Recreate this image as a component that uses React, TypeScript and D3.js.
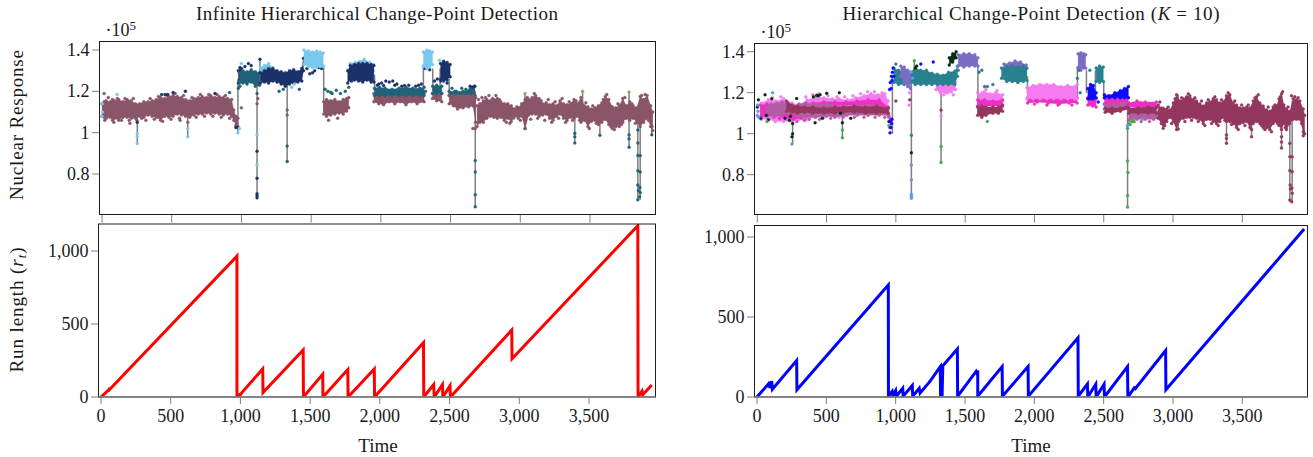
import React from "react";
import * as d3 from "d3";

type Row = [number, number, number];
type Dot = [number, number];

const xTicks = [0, 500, 1000, 1500, 2000, 2500, 3000, 3500];
const yTicksTop = [0.8, 1, 1.2, 1.4];
const yTicksRun = [0, 500, 1000];

// ---------- left panel, envelope samples [time, low, high] in units of 1e5
const lMaroonA: Row[] = [[0,1.08,1.14],[15,1.075,1.15],[30,1.07,1.155],[60,1.075,1.15],[75,1.06,1.16],[90,1.07,1.155],[120,1.06,1.16],[150,1.075,1.15],[180,1.075,1.16],[210,1.07,1.155],[240,1.07,1.14],[270,1.08,1.14],[300,1.075,1.15],[330,1.085,1.15],[360,1.08,1.155],[390,1.075,1.16],[420,1.06,1.17],[450,1.08,1.165],[480,1.075,1.175],[510,1.08,1.18],[540,1.09,1.175],[570,1.085,1.17],[600,1.08,1.16],[630,1.075,1.155],[660,1.085,1.165],[690,1.09,1.17],[720,1.09,1.175],[750,1.095,1.17],[780,1.09,1.18],[810,1.095,1.17],[840,1.09,1.175],[870,1.085,1.17],[900,1.09,1.165],[930,1.08,1.16],[945,1.06,1.11],[960,1.035,1.08],[975,1.03,1.07]];
const lMaroonB: Row[] = [[1590,1.09,1.15],[1610,1.08,1.16],[1640,1.085,1.155],[1670,1.09,1.16],[1700,1.095,1.15],[1730,1.09,1.16],[1755,1.105,1.165],[1770,1.12,1.17]];
const lMaroonC: Row[] = [[1950,1.15,1.19],[1985,1.14,1.19],[2020,1.135,1.19],[2060,1.15,1.19],[2100,1.14,1.19],[2140,1.15,1.19],[2180,1.135,1.19],[2220,1.15,1.19],[2260,1.14,1.19],[2310,1.15,1.19]];
const lMaroonD: Row[] = [[2370,1.165,1.19],[2400,1.155,1.19],[2437,1.15,1.19]];
const lMaroonE: Row[] = [[2490,1.14,1.18],[2520,1.13,1.18],[2550,1.115,1.18],[2590,1.12,1.18],[2630,1.125,1.18],[2660,1.13,1.18],[2680,1.05,1.17]];
const lMaroonF: Row[] = [[2690,1.03,1.13],[2710,1.05,1.14],[2735,1.05,1.155],[2760,1.07,1.16],[2785,1.08,1.155],[2810,1.075,1.16],[2835,1.07,1.165],[2860,1.075,1.15],[2885,1.06,1.14],[2910,1.07,1.14],[2935,1.055,1.13],[2960,1.08,1.115],[2985,1.07,1.12],[3010,1.08,1.14],[3035,1.02,1.16],[3060,1.085,1.16],[3085,1.09,1.17],[3110,1.09,1.18],[3135,1.08,1.165],[3160,1.085,1.14],[3185,1.09,1.145],[3210,1.07,1.135],[3235,1.06,1.14],[3260,1.08,1.13],[3285,1.09,1.155],[3310,1.07,1.14],[3335,1.06,1.135],[3360,1.075,1.14],[3385,1.07,1.16],[3410,1.08,1.14],[3435,1.05,1.17],[3460,1.06,1.13],[3485,1.03,1.125],[3510,1.055,1.115],[3535,1.06,1.12],[3560,1.04,1.13],[3585,1.05,1.145],[3610,1.065,1.175],[3635,1.04,1.16],[3660,1.02,1.125],[3685,1.03,1.12],[3710,1.03,1.13],[3735,1.05,1.165],[3760,1.07,1.13],[3785,1.06,1.15],[3810,1.07,1.13],[3835,1.05,1.12],[3860,1.03,1.175],[3885,1.05,1.16],[3910,1.07,1.18],[3935,1.03,1.13],[3950,1.01,1.1]];
const lTealA: Row[] = [[985,1.24,1.29],[1010,1.24,1.3],[1040,1.235,1.295],[1070,1.245,1.305],[1100,1.225,1.295],[1130,1.23,1.29]];
const lTealC: Row[] = [[1955,1.18,1.215],[1990,1.18,1.22],[2030,1.18,1.215],[2080,1.18,1.21],[2130,1.18,1.215],[2180,1.18,1.22],[2230,1.18,1.215],[2280,1.18,1.215],[2310,1.18,1.22]];
const lTealD: Row[] = [[2372,1.19,1.225],[2400,1.19,1.23],[2437,1.19,1.225]];
const lTealE: Row[] = [[2490,1.18,1.2],[2540,1.18,1.2],[2590,1.18,1.2],[2640,1.18,1.21],[2675,1.18,1.225]];
const lNavyB: Row[] = [[1135,1.24,1.29],[1165,1.245,1.3],[1195,1.24,1.31],[1225,1.25,1.31],[1255,1.245,1.3],[1285,1.235,1.295],[1315,1.225,1.29],[1345,1.235,1.3],[1375,1.24,1.305],[1405,1.245,1.295],[1433,1.25,1.31],[1445,1.3,1.36]];
const lNavyC: Row[] = [[1762,1.24,1.3],[1780,1.255,1.325],[1810,1.255,1.33],[1840,1.25,1.335],[1870,1.245,1.335],[1900,1.255,1.335],[1930,1.245,1.33],[1950,1.245,1.325]];
const lNavyD: Row[] = [[2428,1.26,1.335],[2450,1.25,1.345],[2475,1.255,1.34],[2497,1.27,1.33]];
const lLightB: Row[] = [[1448,1.33,1.4],[1480,1.32,1.395],[1510,1.315,1.39],[1540,1.315,1.395],[1565,1.32,1.39],[1587,1.32,1.385]];
const lLightC: Row[] = [[1780,1.3,1.335],[1820,1.3,1.34],[1850,1.3,1.345],[1880,1.3,1.355],[1920,1.3,1.34],[1945,1.3,1.33]];
const lLightD: Row[] = [[2305,1.32,1.39],[2330,1.31,1.4],[2350,1.32,1.395],[2370,1.33,1.39]];
const lLightE: Row[] = [[1135,1.29,1.315],[1165,1.295,1.325],[1195,1.3,1.335],[1225,1.3,1.315]];
const lNavyColumn: Row[] = [[978,1.24,1.3],[990,1.26,1.315],[1000,1.28,1.31]];
const lNavyDots: Dot[] = [[253,1.05],[428,1.185],[452,1.185],[471,1.185],[510,1.194],[598,1.2],[810,1.19],[960,1.025],[970,1.025],[1025,1.32],[1050,1.335],[1070,1.325],[1133,1.355],[1112,0.91],[1112,0.78],[1112,0.705],[1112,0.695],[1112,0.685],[1470,1.31],[1490,1.285],[1510,1.29],[1525,1.3],[1555,1.315],[1575,1.31],[1790,1.25],[1975,1.23],[1985,1.235],[2005,1.24],[2020,1.228],[2035,1.25],[2060,1.245],[2085,1.25],[2100,1.23],[2115,1.235],[2150,1.225],[2170,1.228],[2200,1.23],[2250,1.225],[2270,1.23],[2290,1.235],[2318,1.31],[2350,1.305],[2385,1.25],[2405,1.26],[2430,1.25],[2475,1.24],[2640,1.225],[2655,1.22],[2670,1.225]];
const lTealDots: Dot[] = [[915,1.194],[1112,1.19],[978,1.215],[990,1.225],[1270,1.2],[1300,1.21],[1328,0.935],[1328,0.86],[1415,1.21],[1600,1.21],[1620,1.2],[1640,1.195],[1650,1.19],[1680,1.205],[1710,1.19],[1745,1.2],[1770,1.22],[2320,1.2],[2510,1.215],[2530,1.2],[2580,1.215],[2610,1.21],[2677,0.865],[2677,0.81],[2677,0.7],[2677,0.642],[3391,0.997],[3391,0.98],[3391,0.95],[3571,0.987],[3780,0.99],[3780,0.97],[3780,0.93],[3843,1.013],[3843,0.95],[3843,0.89],[3843,0.816],[3843,0.747],[3847,0.72],[3843,0.675],[3860,0.89],[3860,0.81],[3858,0.735],[3860,0.71],[3855,0.69],[3943,0.99]];
const lLightDots: Dot[] = [[0,1.08],[4,1.1],[2,1.14],[108,1.185],[253,0.997],[253,0.98],[253,0.948],[615,1.02],[615,0.98],[975,1.0],[985,1.02],[1000,1.335],[1112,0.99],[1112,0.845],[1360,1.22],[1380,1.235],[2420,1.35]];
const lMaroonDots: Dot[] = [[15,1.19],[200,1.045],[250,1.06],[560,1.06],[615,1.05],[1000,1.12],[1112,1.14],[1118,1.165],[1328,1.11],[1328,1.085],[1625,1.06],[1690,1.07],[2677,1.02],[2660,1.02],[3034,1.02],
  [20,1.06],[45,1.17],[85,1.05],[110,1.165],[140,1.06],[165,1.165],[195,1.06],[225,1.165],[285,1.07],[315,1.06],[345,1.165],[375,1.065],[405,1.175],[435,1.055],[465,1.18],[495,1.065],[525,1.19],[555,1.07],[585,1.18],[645,1.17],[675,1.075],[705,1.185],[735,1.08],[765,1.185],[795,1.08],[825,1.185],[855,1.075],[885,1.18],[915,1.07],
  [2700,1.16],[2725,1.17],[2750,1.17],[2775,1.18],[2800,1.165],[2825,1.18],[2850,1.16],[2900,1.05],[2925,1.045],[2950,1.07],[2975,1.125],[3000,1.06],[3050,1.17],[3075,1.065],[3100,1.19],[3125,1.07],[3150,1.155],[3175,1.06],[3200,1.16],[3225,1.05],[3250,1.15],[3275,1.07],[3300,1.165],[3325,1.05],[3350,1.15],[3375,1.06],[3400,1.155],[3425,1.06],[3470,1.145],[3495,1.02],[3520,1.13],[3545,1.045],[3595,1.16],[3620,1.185],[3650,1.03],[3675,1.015],[3700,1.14],[3725,1.04],[3750,1.17],[3800,1.14],[3825,1.045],[3870,1.18],[3895,1.185],[3920,1.06],[3945,1.03]];
const lOliveDots: Dot[] = [[3034,1.19],[3447,1.2],[3780,1.197]];
const lSpikes: Row[] = [[253,0.948,1.1],[615,0.98,1.12],[975,1.0,1.26],[1112,0.685,1.25],[1133,1.25,1.355],[1328,0.86,1.25],[1590,1.1,1.33],[1955,1.2,1.28],[2305,1.18,1.33],[2372,1.2,1.31],[2425,1.2,1.31],[2490,1.18,1.26],[2677,0.642,1.2],[3034,1.02,1.19],[3391,0.95,1.1],[3447,1.1,1.2],[3571,0.987,1.1],[3780,0.93,1.197],[3843,0.675,1.1],[3860,0.675,1.15],[3943,0.99,1.1]];
const lRun: Dot[] = [[0,0],[57,50],[52,38],[64,62],[60,50],[975,965],[975,0],[1000,22],[995,10],[1012,32],[1160,192],[1162,30],[1450,322],[1452,0],[1590,155],[1592,0],[1770,188],[1772,0],[1960,192],[1962,0],[2313,372],[2315,0],[2386,85],[2390,0],[2449,85],[2452,0],[2503,78],[2506,0],[2946,459],[2948,262],[3850,1173],[3852,0],[3880,40],[3885,15],[3950,82]];

// ---------- right panel
const rLightA: Row[] = [[30,1.07,1.15],[80,1.07,1.165],[130,1.06,1.16],[190,1.06,1.17],[250,1.06,1.15],[300,1.07,1.14],[360,1.07,1.165],[420,1.08,1.18],[480,1.08,1.175],[540,1.09,1.17],[590,1.08,1.17],[650,1.09,1.165],[710,1.1,1.175],[770,1.11,1.185],[820,1.11,1.195],[870,1.11,1.19],[920,1.1,1.195],[945,1.08,1.16]];
const rHotA: Row[] = [[20,1.08,1.14],[70,1.085,1.145],[130,1.09,1.14],[200,1.08,1.12],[260,1.07,1.1],[320,1.075,1.105],[400,1.135,1.15],[480,1.135,1.155],[560,1.135,1.155],[640,1.14,1.155],[720,1.135,1.16],[800,1.14,1.165],[880,1.14,1.165],[945,1.09,1.13],[965,1.03,1.07]];
const rPurpleA: Row[] = [[65,1.095,1.13],[100,1.09,1.145],[140,1.09,1.15],[180,1.095,1.155],[220,1.1,1.15],[260,1.1,1.13],[300,1.08,1.145],[350,1.08,1.15],[420,1.08,1.145],[500,1.085,1.15],[560,1.08,1.135],[640,1.09,1.135],[720,1.09,1.135],[800,1.09,1.14],[880,1.09,1.135],[945,1.09,1.125]];
const rMaroonA: Row[] = [[210,1.11,1.16],[250,1.105,1.14],[290,1.1,1.135],[340,1.105,1.13],[400,1.1,1.13],[480,1.1,1.125],[560,1.1,1.13],[620,1.105,1.13],[700,1.105,1.135],[780,1.1,1.13],[860,1.1,1.135],[945,1.1,1.125]];
const rTealA: Row[] = [[985,1.25,1.32],[1020,1.24,1.31],[1060,1.24,1.3],[1100,1.25,1.3],[1140,1.24,1.32],[1180,1.24,1.31],[1220,1.24,1.31],[1260,1.24,1.295],[1300,1.24,1.29],[1340,1.24,1.285],[1380,1.24,1.3],[1425,1.24,1.305],[1445,1.28,1.33]];
const rPurpleB: Row[] = [[1035,1.28,1.33],[1060,1.25,1.325],[1085,1.23,1.31],[1105,1.22,1.3]];
const rLightB: Row[] = [[1290,1.215,1.25],[1320,1.2,1.25],[1360,1.2,1.25],[1400,1.205,1.25],[1430,1.215,1.25]];
const rBlackB: Row[] = [[1385,1.335,1.37],[1410,1.35,1.39],[1435,1.37,1.4]];
const rPurpleC: Row[] = [[1450,1.33,1.385],[1490,1.325,1.39],[1530,1.33,1.39],[1570,1.33,1.385],[1592,1.33,1.37]];
const rLightC: Row[] = [[1600,1.16,1.19],[1640,1.16,1.205],[1680,1.15,1.195],[1720,1.155,1.2],[1770,1.16,1.19]];
const rHotC: Row[] = [[1590,1.135,1.165],[1640,1.135,1.165],[1700,1.135,1.16],[1770,1.135,1.165]];
const rMaroonC: Row[] = [[1590,1.09,1.13],[1620,1.08,1.135],[1650,1.09,1.13],[1700,1.1,1.13],[1740,1.1,1.13],[1770,1.11,1.14]];
const rTealD: Row[] = [[1762,1.27,1.32],[1800,1.255,1.325],[1840,1.255,1.33],[1880,1.25,1.325],[1920,1.255,1.33],[1946,1.26,1.32]];
const rPurpleD: Row[] = [[1780,1.32,1.34],[1820,1.32,1.345],[1860,1.32,1.355],[1900,1.32,1.35],[1940,1.32,1.335]];
const rLightE: Row[] = [[1946,1.17,1.225],[1990,1.17,1.235],[2040,1.17,1.24],[2090,1.17,1.24],[2140,1.17,1.24],[2190,1.17,1.23],[2240,1.17,1.235],[2290,1.17,1.23],[2308,1.17,1.24]];
const rHotE: Row[] = [[1950,1.15,1.175],[2020,1.155,1.175],[2100,1.15,1.175],[2180,1.145,1.175],[2250,1.15,1.175],[2308,1.15,1.175]];
const rPurpleF: Row[] = [[2315,1.32,1.39],[2335,1.31,1.395],[2355,1.32,1.39],[2370,1.32,1.385]];
const rBlueG: Row[] = [[2385,1.17,1.22],[2405,1.17,1.24],[2425,1.17,1.235],[2445,1.175,1.2]];
const rHotG: Row[] = [[2385,1.14,1.175],[2420,1.135,1.17],[2445,1.13,1.17]];
const rTealH: Row[] = [[2445,1.255,1.32],[2470,1.25,1.33],[2497,1.255,1.325]];
const rHotI: Row[] = [[2505,1.145,1.175],[2560,1.14,1.175],[2620,1.145,1.175],[2675,1.145,1.175]];
const rPurpleI: Row[] = [[2505,1.12,1.145],[2570,1.12,1.145],[2630,1.125,1.15],[2680,1.12,1.15]];
const rBlueI: Row[] = [[2505,1.175,1.19],[2540,1.175,1.185],[2580,1.175,1.2],[2620,1.175,1.21],[2650,1.175,1.22],[2678,1.175,1.23]];
const rMaroonI: Row[] = [[2510,1.105,1.125],[2560,1.1,1.125],[2620,1.11,1.125],[2680,1.12,1.14]];
const rHotJ: Row[] = [[2680,1.13,1.15],[2740,1.125,1.16],[2800,1.125,1.155],[2880,1.125,1.155]];
const rPurpleJ: Row[] = [[2680,1.065,1.11],[2740,1.07,1.105],[2800,1.07,1.105],[2860,1.07,1.105],[2915,1.075,1.12]];
const rMaroonJ: Row[] = [[2680,1.1,1.125],[2750,1.1,1.125],[2820,1.1,1.13],[2880,1.1,1.13]];
const rMaroonF: Row[] = [[2893,1.075,1.14],[2915,1.05,1.125],[2929,1.026,1.124],[2955,1.06,1.12],[2978,1.08,1.115],[3002,1.06,1.15],[3026,1.02,1.19],[3050,1.07,1.16],[3074,1.075,1.17],[3098,1.08,1.18],[3122,1.08,1.185],[3146,1.08,1.165],[3170,1.075,1.16],[3194,1.07,1.145],[3218,1.05,1.135],[3242,1.07,1.15],[3266,1.07,1.155],[3290,1.06,1.17],[3314,1.05,1.165],[3338,1.06,1.15],[3362,1.08,1.155],[3386,1.06,1.185],[3410,1.06,1.19],[3434,1.05,1.15],[3459,1.03,1.14],[3483,1.05,1.125],[3507,1.055,1.125],[3531,1.06,1.13],[3555,1.03,1.125],[3579,1.05,1.16],[3603,1.06,1.18],[3627,1.05,1.15],[3651,1.03,1.135],[3675,1.03,1.115],[3699,1.02,1.11],[3723,1.05,1.13],[3747,1.06,1.135],[3765,1.04,1.17],[3783,1.02,1.195],[3800,1.05,1.14],[3819,1.02,1.12],[3843,1.05,1.11],[3867,1.07,1.17],[3891,1.07,1.165],[3915,1.07,1.16],[3940,1.01,1.12],[3950,1.0,1.09]];
const rBlackDots: Dot[] = [[0,1.13],[8,1.165],[25,1.075],[56,1.19],[65,1.09],[80,1.068],[104,1.17],[200,1.075],[232,1.065],[240,1.085],[255,1.05],[255,1.0],[250,0.985],[284,1.172],[405,1.18],[417,1.054],[429,1.188],[440,1.185],[453,1.19],[470,1.075],[501,1.197],[592,1.2],[600,1.1],[614,1.054],[674,1.075],[950,1.06],[1112,0.907],[1140,1.32],[1150,1.33]];
const rGreenDots: Dot[] = [[70,1.06],[614,1.018],[614,0.98],[950,1.04],[955,1.03],[1133,1.356],[1326,0.937],[1326,0.86],[2672,1.026],[2680,1.05],[2690,1.045],[2700,1.06],[2720,1.06],[2672,0.867],[2675,0.811],[2672,0.698],[2672,0.642],[1660,1.06]];
const rBlueDots: Dot[] = [[958,1.005],[963,1.03],[970,1.05],[958,1.06],[972,1.07],[955,1.215],[965,1.22],[972,1.26],[960,1.25],[968,1.28],[975,1.3],[980,1.32],[985,1.28],[1270,1.35],[1180,1.34],[2460,1.155]];
const rCornDots: Dot[] = [[0,1.09],[5,1.11],[2,1.14],[10,1.08],[110,1.2],[250,0.95],[1110,1.3],[1120,1.27],[1112,0.847],[1112,0.775],[1112,0.705],[1112,0.695],[1112,0.685],[2672,1.04],[2780,1.07]];
const rTealDots: Dot[] = [[1000,1.34],[1112,0.993],[1450,1.31],[1600,1.3],[1620,1.31],[1640,1.23],[1700,1.24],[1660,1.23],[2310,1.27],[2320,1.31],[2400,1.31],[2330,1.2]];
const rMaroonDots: Dot[] = [[1100,1.165],[1000,1.16],[1326,1.115],[3038,1.023],[3386,0.994],[3386,0.977],[3386,0.953],[3567,0.985],[3783,0.985],[3783,0.96],[3783,0.93],[3843,0.953],[3843,0.888],[3843,0.82],[3845,0.75],[3847,0.73],[3843,0.676],[3860,0.888],[3860,0.815],[3858,0.735],[3860,0.71],[3856,0.668],[3940,0.99],
  [2905,1.155],[2940,1.04],[2965,1.13],[2990,1.05],[3015,1.17],[3040,1.06],[3062,1.175],[3086,1.06],[3110,1.195],[3134,1.065],[3158,1.175],[3182,1.06],[3206,1.16],[3230,1.04],[3254,1.165],[3278,1.05],[3302,1.18],[3326,1.04],[3350,1.165],[3374,1.065],[3398,1.2],[3422,1.045],[3446,1.16],[3471,1.02],[3495,1.14],[3519,1.04],[3543,1.14],[3567,1.02],[3591,1.175],[3615,1.19],[3639,1.04],[3663,1.02],[3687,1.13],[3711,1.01],[3735,1.14],[3756,1.05],[3774,1.18],[3791,1.205],[3810,1.03],[3830,1.13],[3855,1.185],[3879,1.18],[3903,1.175],[3928,1.05]];
const rLightDots: Dot[] = [[1100,1.2],[1095,1.14],[1326,1.086],[1590,1.2],[1620,1.2],[2400,1.14],
  [110,1.175],[170,1.18],[350,1.18],[400,1.19],[445,1.195],[510,1.185],[575,1.18],[630,1.18],[690,1.185],[745,1.195],[795,1.205],[845,1.205],[900,1.2],[1345,1.19],[1375,1.2],[1415,1.19],[1650,1.215],[1730,1.21]];
const rHotDots: Dot[] = [[160,1.075],[230,1.07],[285,1.06],[340,1.065],[2000,1.145],[2090,1.14],[2170,1.14],[2270,1.14],[2530,1.185],[2640,1.135]];
const rPlumDots: Dot[] = [[120,1.08],[180,1.085],[375,1.07],[450,1.07],[530,1.075],[620,1.08],[700,1.08],[770,1.08],[850,1.08],[920,1.08],[2710,1.06],[2770,1.06],[2830,1.06]];
const rSpikes: Row[] = [[255,0.95,1.1],[614,0.98,1.12],[975,1.0,1.28],[1112,0.685,1.25],[1133,1.25,1.356],[1326,0.86,1.24],[1592,1.1,1.33],[1950,1.2,1.28],[2310,1.18,1.33],[2375,1.2,1.31],[2440,1.2,1.31],[2500,1.18,1.26],[2672,0.642,1.18],[3038,1.02,1.19],[3386,0.953,1.1],[3567,0.985,1.1],[3783,0.93,1.19],[3843,0.676,1.1],[3860,0.668,1.16],[3940,0.99,1.1]];
const rRun: Dot[] = [[0,0],[85,85],[78,60],[92,95],[96,55],[106,100],[111,48],[286,228],[288,45],[947,700],[948,5],[975,35],[980,8],[1000,40],[1005,5],[1051,55],[1054,5],[1120,72],[1123,5],[1170,55],[1176,25],[1240,90],[1245,95],[1322,190],[1324,5],[1328,190],[1335,5],[1340,195],[1445,300],[1447,5],[1580,160],[1585,150],[1592,165],[1592,5],[1768,190],[1770,5],[1955,190],[1957,5],[2315,370],[2317,5],[2383,81],[2386,0],[2443,80],[2446,0],[2503,80],[2506,0],[2672,190],[2675,0],[2727,65],[2722,45],[2947,290],[2949,45],[3946,1050]];

const colors = {
  maroon: "#8a5569", teal: "#20627a", navy: "#1b3169", light: "#78c8ec", olive: "#8ca865",
  pink: "#f67bf0", hot: "#ec30c2", plum: "#b35ea3", wine: "#93375f", rteal: "#27818f",
  purple: "#7a6cc5", blue: "#0a0aff", black: "#0b2c18", green: "#45a84c", corn: "#6495ed",
};

const serif = "'Liberation Serif','Times New Roman',serif";
const FS = 18;
const px = (v: number) => Math.round(v * 100) / 100;

type Layer = { rows?: Row[]; dots?: Dot[]; color: string };

const leftLayers: Layer[] = [
  { dots: lOliveDots, color: colors.olive },
  { rows: lLightE, color: colors.light },
  { rows: lLightC, color: colors.light },
  { rows: lTealE, color: colors.teal },
  { rows: lMaroonA, color: colors.maroon },
  { rows: lMaroonB, color: colors.maroon },
  { rows: lMaroonC, color: colors.maroon },
  { rows: lMaroonD, color: colors.maroon },
  { rows: lMaroonE, color: colors.maroon },
  { rows: lMaroonF, color: colors.maroon },
  { dots: lMaroonDots, color: colors.maroon },
  { dots: lNavyDots, color: colors.navy },
  { dots: lTealDots, color: colors.teal },
  { rows: lNavyColumn, color: colors.navy },
  { rows: lTealA, color: colors.teal },
  { rows: lTealC, color: colors.teal },
  { rows: lTealD, color: colors.teal },
  { rows: lNavyB, color: colors.navy },
  { rows: lNavyC, color: colors.navy },
  { rows: lNavyD, color: colors.navy },
  { dots: lLightDots, color: colors.light },
  { rows: lLightB, color: colors.light },
  { rows: lLightD, color: colors.light },
];

const rightLayers: Layer[] = [
  { dots: rLightDots, color: colors.pink },
  { rows: rLightA, color: colors.pink },
  { dots: rHotDots, color: colors.hot },
  { dots: rPlumDots, color: colors.plum },
  { rows: rHotA, color: colors.hot },
  { rows: rPurpleA, color: colors.plum },
  { rows: rMaroonA, color: colors.wine },
  { rows: rLightB, color: colors.pink },
  { rows: rTealA, color: colors.rteal },
  { rows: rPurpleB, color: colors.purple },
  { rows: rBlackB, color: colors.black },
  { rows: rPurpleC, color: colors.purple },
  { rows: rLightC, color: colors.pink },
  { rows: rHotC, color: colors.hot },
  { rows: rMaroonC, color: colors.wine },
  { rows: rPurpleD, color: colors.purple },
  { rows: rTealD, color: colors.rteal },
  { rows: rHotE, color: colors.hot },
  { rows: rLightE, color: colors.pink },
  { rows: rPurpleF, color: colors.purple },
  { rows: rHotG, color: colors.hot },
  { rows: rBlueG, color: colors.blue },
  { rows: rTealH, color: colors.rteal },
  { rows: rHotI, color: colors.hot },
  { rows: rPurpleI, color: colors.plum },
  { rows: rMaroonI, color: colors.wine },
  { rows: rBlueI, color: colors.blue },
  { rows: rPurpleJ, color: colors.plum },
  { rows: rHotJ, color: colors.hot },
  { rows: rMaroonJ, color: colors.wine },
  { rows: rMaroonF, color: colors.wine },
  { dots: rMaroonDots, color: colors.wine },
  { dots: rTealDots, color: colors.rteal },
  { dots: rBlackDots, color: colors.black },
  { dots: rGreenDots, color: colors.green },
  { dots: rCornDots, color: colors.corn },
  { dots: rBlueDots, color: colors.blue },
];

function Frame({ x0, x1, y0, y1, bottomGrey }: { x0: number; x1: number; y0: number; y1: number; bottomGrey?: boolean }) {
  return (
    <g fill="none">
      <rect x={x0} y={y0} width={x1 - x0} height={y1 - y0} stroke="#1f1f1f" strokeWidth={1} />
      {bottomGrey && <line x1={x0} x2={x1} y1={y1} y2={y1} stroke="#808080" strokeWidth={1.6} />}
    </g>
  );
}

function TopPanel({ id, x, y, frame, layers, spikes }: any) {
  const line = d3.line<Dot>().x((d) => x(d[0])).y((d) => y(d[1]));
  const area = d3.area<Row>().x((d) => x(d[0])).y0((d) => y(d[1])).y1((d) => y(d[2]));
  return (
    <g>
      <clipPath id={id}><rect x={frame.x0} y={frame.y0} width={frame.x1 - frame.x0} height={frame.y1 - frame.y0} /></clipPath>
      <g clipPath={`url(#${id})`}>
        {spikes.map((s: Row, i: number) => (
          <path key={i} d={line([[s[0], s[1]], [s[0], s[2]]]) || ""} stroke="#7f7f7f" strokeWidth={1.5} fill="none" />
        ))}
        {layers.map((l: Layer, i: number) => (
          <g key={i} fill={l.color} stroke={l.color} strokeOpacity={0.3} strokeWidth={1}>
            {l.rows && <path d={area(l.rows) || ""} />}
            {l.rows && l.rows.map((r, j) => (
              <g key={j}>
                <circle cx={px(x(r[0]))} cy={px(y(r[1]))} r={1.5} />
                <circle cx={px(x(r[0]))} cy={px(y(r[2]))} r={1.5} />
              </g>
            ))}
            {l.dots && l.dots.map((d, j) => (
              <circle key={j} cx={px(x(d[0]))} cy={px(y(d[1]))} r={1.5} />
            ))}
          </g>
        ))}
      </g>
      {yTicksTop.map((t) => (
        <g key={t}>
          <line x1={frame.x0 - 7.5} x2={frame.x0} y1={y(t)} y2={y(t)} stroke="#808080" />
          <text x={frame.x0 - 10} y={y(t)} dy="0.34em" textAnchor="end" fontSize={FS} fontFamily={serif} fill="#1a1a1a">{t === 1 ? "1" : t.toFixed(1)}</text>
        </g>
      ))}
      {xTicks.map((t) => (
        <line key={t} x1={x(t)} x2={x(t)} y1={frame.y1} y2={frame.y1 + 8} stroke="#808080" />
      ))}
      <Frame {...frame} />
      <text x={frame.x0 + 6} y={frame.y0 - 6} fontSize={FS} fontFamily={serif} fill="#1a1a1a">·10<tspan dy="-6" fontSize={13}>5</tspan></text>
    </g>
  );
}

function RunPanel({ id, x, y, frame, data, color }: any) {
  const line = d3.line<Dot>().x((d) => x(d[0])).y((d) => y(d[1]));
  const fmt = d3.format(",");
  return (
    <g>
      <clipPath id={id}><rect x={frame.x0} y={frame.y0} width={frame.x1 - frame.x0} height={frame.y1 - frame.y0} /></clipPath>
      <path d={line(data) || ""} clipPath={`url(#${id})`} fill="none" stroke={color} strokeWidth={3} strokeLinejoin="miter" />
      {yTicksRun.map((t) => (
        <g key={t}>
          <line x1={frame.x0 - 7.5} x2={frame.x0} y1={y(t)} y2={y(t)} stroke="#808080" />
          <text x={frame.x0 - 10} y={y(t)} dy="0.34em" textAnchor="end" fontSize={FS} fontFamily={serif} fill="#1a1a1a">{fmt(t)}</text>
        </g>
      ))}
      {xTicks.map((t) => (
        <g key={t}>
          <line x1={x(t)} x2={x(t)} y1={frame.y1} y2={frame.y1 + 7} stroke="#808080" />
          <text x={x(t)} y={422} textAnchor="middle" fontSize={FS} fontFamily={serif} fill="#1a1a1a">{fmt(t)}</text>
        </g>
      ))}
      <Frame {...frame} bottomGrey />
    </g>
  );
}

export default function App() {
  const xTL = d3.scaleLinear().domain([0, 3500]).range([102, 590]);
  const xBL = d3.scaleLinear().domain([0, 3500]).range([101, 589]);
  const xTR = d3.scaleLinear().domain([0, 3500]).range([757.3, 1242.3]);
  const xBR = d3.scaleLinear().domain([0, 3500]).range([757, 1242.3]);
  const yTL = d3.scaleLinear().domain([0.8, 1.4]).range([174, 50]);
  const yTR = d3.scaleLinear().domain([0.8, 1.4]).range([174.7, 51.7]);
  const yBL = d3.scaleLinear().domain([0, 1000]).range([397, 251]);
  const yBR = d3.scaleLinear().domain([0, 1000]).range([397, 237]);
  const tf = (x: number, y: number) => `translate(${x},${y}) rotate(-90)`;
  return (
    <svg width={1313} height={457} viewBox="0 0 1313 457" style={{ position: "absolute", left: 0, top: 0, background: "#fff" }}>
      <TopPanel id="c1" x={xTL} y={yTL} frame={{ x0: 99.5, x1: 655.5, y0: 41.5, y1: 214.5 }} layers={leftLayers} spikes={lSpikes} />
      <TopPanel id="c2" x={xTR} y={yTR} frame={{ x0: 754.5, x1: 1307.5, y0: 43.5, y1: 214.5 }} layers={rightLayers} spikes={rSpikes} />
      <RunPanel id="c3" x={xBL} y={yBL} frame={{ x0: 98.5, x1: 655.5, y0: 224, y1: 397 }} data={lRun} color="#ff0000" />
      <RunPanel id="c4" x={xBR} y={yBR} frame={{ x0: 754.5, x1: 1307.5, y0: 225.5, y1: 397 }} data={rRun} color="#0000ff" />

      <g fontFamily={serif} fontSize={19} fill="#1a1a1a">
        <text x={377} y={20} textAnchor="middle" textLength={362} lengthAdjust="spacing">Infinite Hierarchical Change-Point Detection</text>
        <text x={1031} y={20} textAnchor="middle" textLength={377} lengthAdjust="spacing">Hierarchical Change-Point Detection (<tspan fontStyle="italic">K</tspan> = 10)</text>
        <text transform={tf(23, 125)} textAnchor="middle" textLength={150} lengthAdjust="spacing">Nuclear Response</text>
        <text transform={tf(23, 310)} textAnchor="middle" textLength={125} lengthAdjust="spacing">Run length (<tspan fontStyle="italic">r</tspan><tspan fontStyle="italic" fontSize={13} dy="3">t</tspan><tspan dy="-3">)</tspan></text>
        <text x={378} y={452} textAnchor="middle">Time</text>
        <text x={1031} y={452} textAnchor="middle">Time</text>
      </g>
    </svg>
  );
}
